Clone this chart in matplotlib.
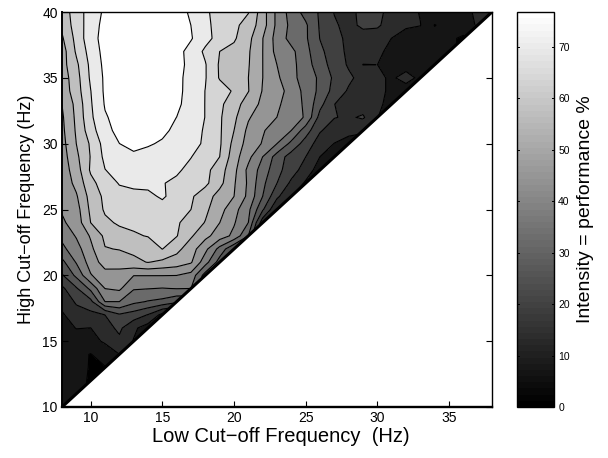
import numpy as np
import matplotlib
matplotlib.use('Agg')
import matplotlib.pyplot as plt
from matplotlib.cm import ScalarMappable
from matplotlib.colors import Normalize

plt.rcParams['font.family'] = ['Liberation Sans', 'DejaVu Sans']

low_cut = np.arange(8, 39)
high_cut = np.arange(10, 41)

# performance %, each row starts at low cut-off 8 and stops at the diagonal (high = low + 2)
h10 = [7]
h11 = [7, 6.5]
h12 = [7, 6.5, 5.7]
h13 = [8, 7, 5.7, 5.6]
h14 = [8, 7.5, 5.7, 9, 11.8]
h15 = [9, 9.5, 10.3, 12.5, 16.5, 11.5]
h16 = [10, 12, 11.8, 15.5, 19, 13, 9]
h17 = [11, 15.5, 16, 17.8, 23, 21, 17.5, 10]
h18 = [14, 18.5, 22, 35.5, 35.5, 31, 29.2, 28, 25]
h19 = [16.5, 23, 31, 41.5, 42.5, 36, 35.7, 35.3, 35.7, 35.5]
h20 = [23, 31, 41, 45, 44.5, 41.6, 41.6, 41.6, 41.5, 39.5, 27]
h21 = [28, 36, 44, 50, 50.5, 52, 53.5, 52, 50.5, 48, 38, 27]
h22 = [34, 39, 46, 53, 53.5, 54.5, 55.5, 59.3, 55, 50, 43, 33.5, 24]
h23 = [37, 42, 48, 54.5, 57, 58.5, 59.5, 60.5, 59.5, 54, 49, 44.5, 40, 29.6]
h24 = [40.5, 44, 53.3, 58, 60, 60.5, 61, 61.5, 60, 56.5, 53, 47.4, 42, 35.5, 14]
h25 = [42, 45, 54.5, 60, 62, 62.5, 62.5, 64, 61.5, 59.2, 54.5, 49.5, 43.5, 37, 24.5, 12]
h26 = [42.6, 46.7, 55.5, 60.5, 63, 64, 64.5, 65.5, 64, 60, 56, 51, 47.4, 40, 29.6, 19, 12]
h27 = [43.3, 49, 57.5, 62, 65.5, 66, 65.8, 65.4, 64, 62, 60.5, 55, 48, 40.5, 31, 23.7, 16.5, 11]
h28 = [44, 50.5, 60, 65, 67, 68, 68, 67, 66, 63.5, 61, 56, 49, 40, 33, 25.5, 20.5, 15, 9]
h29 = [44.6, 52, 59.5, 66.5, 68.5, 70, 69.5, 69, 67.5, 65.3, 62, 59.2, 50, 43, 35.5, 27, 21, 17.8, 11.8, 9]
h30 = [45.3, 53.3, 60, 67.5, 71, 72.5, 71.5, 70.5, 69, 67.5, 64, 60, 51.5, 45, 41, 35.5, 28, 21, 15, 11.7, 9]
h31 = [46, 54, 62.5, 69.5, 72.5, 73, 73, 72, 70, 67.5, 64.5, 60, 53.3, 46, 42, 38.5, 35.5, 26.5, 18.3, 15, 14, 13]
h32 = [46.5, 54.5, 64, 70.5, 73, 74, 74, 73, 71, 68, 65, 60, 54.5, 48, 44, 41.4, 38, 35, 21.5, 18, 17, 18.5, 12]
h33 = [47.4, 55, 64.5, 71.5, 74, 75, 75.5, 74.5, 72.5, 68, 65, 60.5, 55.8, 50.5, 46, 42.5, 38.5, 34.5, 25.5, 17.8, 16.5, 15, 13, 10]
h34 = [49.5, 56.5, 65, 72, 75, 76, 76, 75, 72.5, 69, 65, 62, 58.5, 53.5, 47, 44.5, 38.5, 34, 28, 21.5, 17, 15, 13, 11, 9]
h35 = [50, 57, 66, 72, 75, 76, 76, 75, 73, 68.5, 65.5, 58.7, 55.5, 53.3, 47.4, 42.5, 37.2, 33, 28.5, 22.5, 19, 15.5, 13, 11, 14, 10.5]
h36 = [51, 58, 66.5, 72.5, 75, 76, 76, 75.5, 73.5, 69, 65.5, 58.5, 56, 53.7, 47.4, 41.4, 37.2, 32.5, 26, 21.5, 17, 11.75, 11.85, 11, 9.5, 8.5, 7.5]
h37 = [50.5, 60, 67.5, 73, 75, 76, 76, 76, 73, 69, 64, 59.2, 57.5, 54, 47.4, 39.5, 37, 31.5, 25, 20.5, 16.5, 14.5, 12.5, 11, 10, 9, 8, 7]
h38 = [52.5, 61, 69, 73, 76, 76, 76, 76, 75, 71.5, 67, 63, 60, 55, 47.5, 39, 33.5, 30.5, 23.5, 19.5, 16.5, 15, 13.5, 11.8, 10, 9, 8, 7, 5]
h39 = [54.5, 62, 68, 73, 76, 76, 76, 76, 75, 71, 66.5, 63, 60.5, 57, 50, 40, 34, 30.5, 23, 18.5, 16, 19, 19, 14, 12.5, 12, 5.7, 8, 9, 12.5]
h40 = [56, 62, 68, 72, 75, 76, 76, 76, 74, 70, 66, 63, 61, 59.5, 50, 40, 33, 27.5, 23, 17.5, 16, 19.5, 19.5, 15.5, 14, 11.5, 10, 9, 10, 13, 14]

rows = [h10, h11, h12, h13, h14, h15, h16, h17, h18, h19, h20, h21, h22, h23, h24, h25,
        h26, h27, h28, h29, h30, h31, h32, h33, h34, h35, h36, h37, h38, h39, h40]

Z = np.full((len(high_cut), len(low_cut)), np.nan)
for i, r in enumerate(rows):
    Z[i, :len(r)] = r
Z = np.ma.masked_invalid(Z)

n_bands = 13
step = 5.92
levels = [step * k for k in range(n_bands + 1)]
levels[-1] = 80
band_greys = [str(k / (n_bands - 1)) for k in range(n_bands)]

fig = plt.figure(figsize=(6.08, 4.58), dpi=100)
ax = fig.add_axes([62 / 608, 1 - 407 / 458, 430 / 608, 395 / 458])

ax.contourf(low_cut, high_cut, Z, levels=levels, colors=band_greys)
ax.contour(low_cut, high_cut, Z, levels=levels[1:-1], colors='k', linewidths=0.8)
ax.plot(low_cut, low_cut + 2, color='k', lw=2.2, clip_on=True)

ax.set_xlim(8, 38)
ax.set_ylim(10, 40)
ax.set_xticks([10, 15, 20, 25, 30, 35])
ax.set_yticks([10, 15, 20, 25, 30, 35, 40])
ax.tick_params(direction='in', length=4, width=0.8, labelsize=10, top=False, right=True, pad=3)
ax.set_xlabel('Low Cut\u2212off Frequency  (Hz)', fontsize=14.5, labelpad=1, x=0.51)
ax.set_ylabel('High Cut\u2212off Frequency (Hz)', fontsize=13, labelpad=5)
ax.spines['left'].set_linewidth(1.4)
ax.spines['bottom'].set_linewidth(1.7)
ax.spines['top'].set_linewidth(1.0)
ax.spines['right'].set_linewidth(1.0)

cax = fig.add_axes([517 / 608, 1 - 407 / 458, 37 / 608, 395 / 458])
sm = ScalarMappable(norm=Normalize(0, 76.8), cmap=plt.get_cmap('gray', 64))
cb = fig.colorbar(sm, cax=cax)
cb.set_ticks(range(0, 71, 10))
cb.ax.tick_params(direction='out', length=0, labelsize=7.5, pad=3)
for t in range(0, 71, 10):
    cax.plot([0, 0.06], [t, t], color='k', lw=0.7, transform=cax.get_yaxis_transform())
    cax.plot([0.94, 1], [t, t], color='k', lw=0.7, transform=cax.get_yaxis_transform())
cb.outline.set_linewidth(1.0)
cb.set_label('Intensity = performance %', fontsize=14, labelpad=5)

fig.savefig('out.png', dpi=100)
